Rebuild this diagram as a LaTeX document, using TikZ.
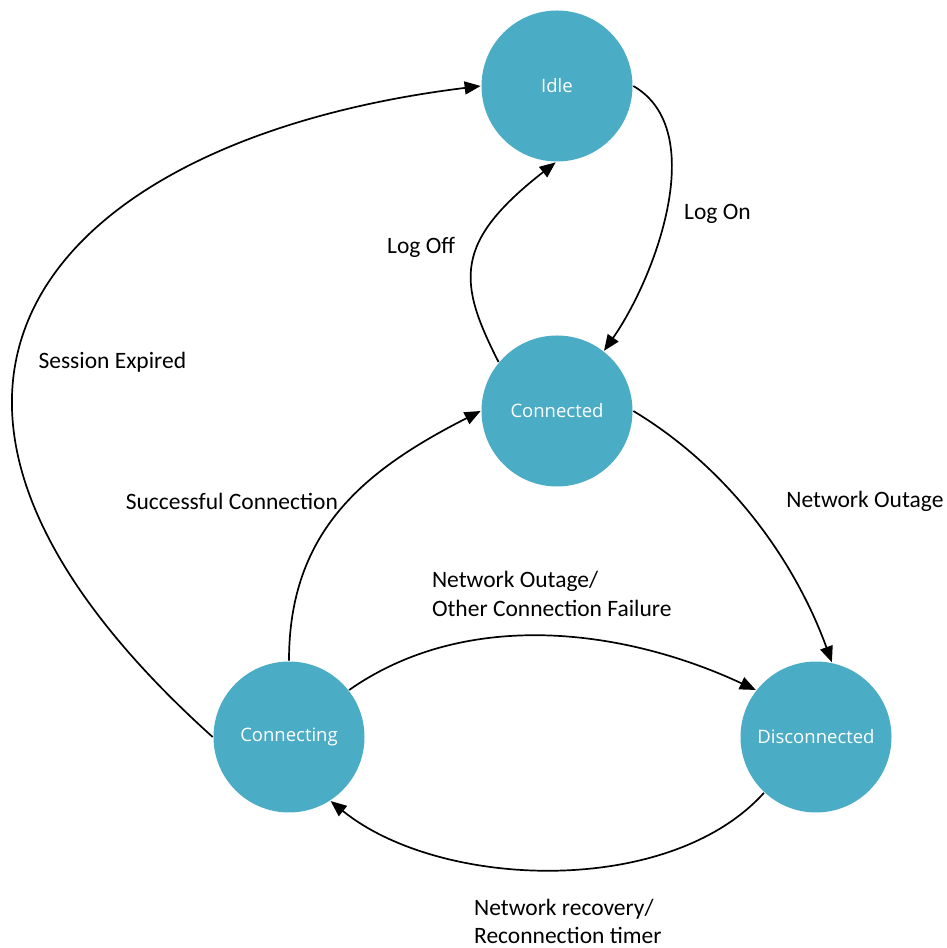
\documentclass[tikz,border=0pt]{standalone}
\usepackage{fontspec}
\setmainfont{Carlito}
\newfontfamily\circfam{Open Sans}
\usepackage{tikz}
\usetikzlibrary{arrows.meta,automata,positioning}

\definecolor{stateteal}{HTML}{4BACC6}
\newcommand{\lblfont}{\fontsize{23.5pt}{28.3pt}\selectfont}
\newcommand{\statefont}{\circfam\fontsize{18.5pt}{22pt}\selectfont}

\tikzset{
  every state/.style={draw=none,fill=stateteal,text=white,minimum size=151pt,
    inner sep=0pt,font=\statefont},
  lbl/.style={font=\lblfont,inner sep=0pt,align=left}
}

\begin{document}
\begin{tikzpicture}[->,>={Triangle[length=16pt,width=13pt]},line width=1.7pt,
        node distance=325pt,on grid,x=1pt,y=1pt]

  \useasboundingbox (0,0) rectangle (947,948);

  \node[state] (idle) at (557,862) {Idle};
  \node[state] (connected) [below=of idle] {Connected};
  \node[state] (connecting) [below left=326pt and 268pt of connected] {Connecting};
  \node[state] (disconnected) [below right=326pt and 259pt of connected] {Disconnected};

  \path (idle.east) edge [out=-30,in=55,distance=89pt]
          node[pos=0.52,right=18pt,lbl] {Log On} (connected.52)
        (connected.140) edge [out=117,in=218,out distance=90pt,in distance=130pt]
          node[pos=0.58,left=22pt,lbl] {Log Off} (idle.269)
        (connecting.west) edge [out=138,in=187,out distance=530pt,in distance=425pt]
          node[pos=0.41,right=21pt,lbl] {Session Expired} (idle.west)
        (connecting.north) edge [out=90,in=207,distance=130pt]
          node[pos=0.536,left=10pt,lbl] {Successful Connection} (connected.west)
        (connected.east) edge [out=-31,in=110,distance=110pt]
          node[pos=0.43,right=46pt,lbl] {Network Outage} (disconnected.78)
        (connecting.38) edge [out=35,in=155,distance=144pt]
          node[pos=0.5,above=19pt,xshift=4pt,lbl] {Network Outage/\\Other Connection Failure} (disconnected.142)
        (disconnected.227) edge [out=228,in=-39,distance=141pt]
          node[pos=0.47,below=29pt,lbl] {Network recovery/\\Reconnection timer} (connecting.303);

\end{tikzpicture}
\end{document}
